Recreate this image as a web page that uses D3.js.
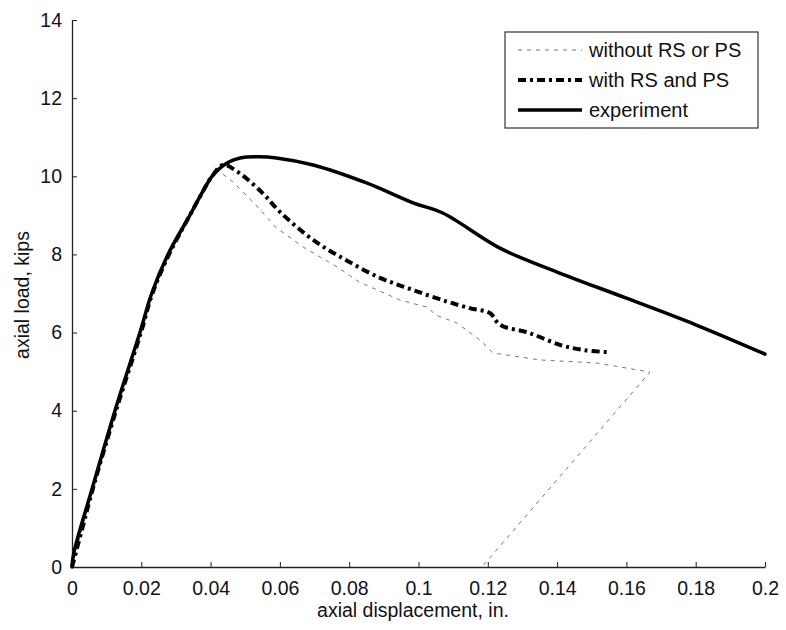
<!DOCTYPE html>
<html>
<head>
<meta charset="utf-8">
<script src="https://cdn.jsdelivr.net/npm/d3@7"></script>
<style>
  html, body { margin: 0; padding: 0; background: #fff; }
  svg { display: block; }
  text { font-family: "Liberation Sans", Arial, sans-serif; fill: #111; }
</style>
</head>
<body>
<svg id="chart" width="786" height="630"></svg>
<script>
// ---- data ----
const xTicks = [0, 0.02, 0.04, 0.06, 0.08, 0.1, 0.12, 0.14, 0.16, 0.18, 0.2];
const xTickLabels = ["0", "0.02", "0.04", "0.06", "0.08", "0.1", "0.12", "0.14", "0.16", "0.18", "0.2"];
const yTicks = [0, 2, 4, 6, 8, 10, 12, 14];
const yTickLabels = ["0", "2", "4", "6", "8", "10", "12", "14"];
const seriesNames = ["without RS or PS", "with RS and PS", "experiment"];

const withoutX = [0, 0.003, 0.006, 0.0127, 0.0199, 0.0232, 0.028, 0.034, 0.038, 0.0404, 0.042, 0.0465, 0.053, 0.059, 0.0667, 0.0765, 0.083, 0.0947, 0.1025, 0.105, 0.111, 0.1177, 0.1215, 0.135, 0.1515, 0.1668, 0.1188];
const withoutY = [0, 1.0, 2, 4, 6, 7, 8, 9, 9.65, 10, 10.16, 9.85, 9.27, 8.68, 8.19, 7.68, 7.29, 6.83, 6.65, 6.45, 6.25, 5.81, 5.48, 5.3, 5.22, 4.99, 0.05];

const withX = [0, 0.003, 0.006, 0.0127, 0.0199, 0.0232, 0.028, 0.034, 0.038, 0.0404, 0.0436, 0.048, 0.055, 0.060, 0.0696, 0.079, 0.0889, 0.0984, 0.108, 0.115, 0.1206, 0.1235, 0.132, 0.141, 0.148, 0.1544];
const withY = [0, 1.0, 2, 4, 6, 7, 8, 9, 9.65, 10, 10.29, 10.1, 9.57, 9.09, 8.37, 7.86, 7.4, 7.09, 6.8, 6.62, 6.5, 6.2, 5.99, 5.68, 5.55, 5.5];

const expX = [0, 0.0005, 0.0058, 0.0124, 0.0196, 0.023, 0.0277, 0.034, 0.038, 0.0404, 0.045, 0.0485, 0.054, 0.059, 0.0696, 0.085, 0.0984, 0.107, 0.1235, 0.14, 0.16, 0.18, 0.2];
const expY = [0, 0.35, 2, 4, 6, 7, 8, 9, 9.65, 10, 10.35, 10.47, 10.5, 10.47, 10.29, 9.83, 9.32, 9.06, 8.16, 7.55, 6.88, 6.2, 5.45];

// ---- layout ----
const svg = d3.select("#chart");
const mLeft = 72, mRight = 765, mTop = 20, mBottom = 567;
const x = d3.scaleLinear().domain([0, 0.2]).range([mLeft, mRight]);
const y = d3.scaleLinear().domain([0, 14]).range([mBottom, mTop]);

// axes (ticks inward, no box)
const xAxis = d3.axisBottom(x).tickValues(xTicks).tickSizeInner(-5).tickSizeOuter(0)
  .tickPadding(14).tickFormat((d, i) => xTickLabels[i]);
const yAxis = d3.axisLeft(y).tickValues(yTicks).tickSizeInner(-5).tickSizeOuter(0)
  .tickPadding(10).tickFormat((d, i) => yTickLabels[i]);

const gx = svg.append("g").attr("transform", `translate(0,${mBottom})`).call(xAxis);
const gy = svg.append("g").attr("transform", `translate(${mLeft},0)`).call(yAxis);
[gx, gy].forEach(g => {
  g.select(".domain").attr("stroke", "#222").attr("stroke-width", 1.3);
  g.selectAll(".tick line").attr("stroke", "#222").attr("stroke-width", 1);
  g.selectAll(".tick text").attr("font-size", 19.5).attr("fill", "#111")
    .attr("font-family", '"Liberation Sans", Arial, sans-serif');
});

// axis labels
svg.append("text").attr("x", 413).attr("y", 617).attr("text-anchor", "middle")
  .attr("font-size", 19.5).text("axial displacement, in.");
svg.append("text").attr("transform", "translate(29,295) rotate(-90)").attr("text-anchor", "middle")
  .attr("font-size", 19.5).text("axial load, kips");

// lines
const smooth = d3.line().x(d => x(d[0])).y(d => y(d[1])).curve(d3.curveCatmullRom.alpha(0.5));
const straight = d3.line().x(d => x(d[0])).y(d => y(d[1]));
const zip = (a, b) => a.map((v, i) => [v, b[i]]);

const styles = [
  { stroke: "#777", width: 1, dash: "4,5", cap: "butt", gen: straight },
  { stroke: "#000", width: 4, dash: "8,4,3,4", cap: "butt", gen: smooth },
  { stroke: "#000", width: 3.5, dash: null, cap: "round", gen: smooth }
];
const data = [zip(withoutX, withoutY), zip(withX, withY), zip(expX, expY)];

data.forEach((d, i) => {
  const s = styles[i];
  svg.append("path").datum(d).attr("d", s.gen)
    .attr("fill", "none").attr("stroke", s.stroke).attr("stroke-width", s.width)
    .attr("stroke-linejoin", "round").attr("stroke-linecap", s.cap)
    .attr("stroke-dasharray", s.dash);
});

// legend
const lg = svg.append("g");
lg.append("rect").attr("x", 505).attr("y", 32).attr("width", 253).attr("height", 96)
  .attr("fill", "#fff").attr("stroke", "#333").attr("stroke-width", 1.2);
seriesNames.forEach((name, i) => {
  const s = styles[i];
  const yy = 50 + i * 30;
  lg.append("line").attr("x1", 518).attr("x2", 582).attr("y1", yy).attr("y2", yy)
    .attr("stroke", s.stroke).attr("stroke-width", s.width).attr("stroke-dasharray", s.dash);
  lg.append("text").attr("x", 589).attr("y", yy).attr("dy", "0.35em")
    .attr("font-size", 20).text(name);
});
</script>
</body>
</html>
